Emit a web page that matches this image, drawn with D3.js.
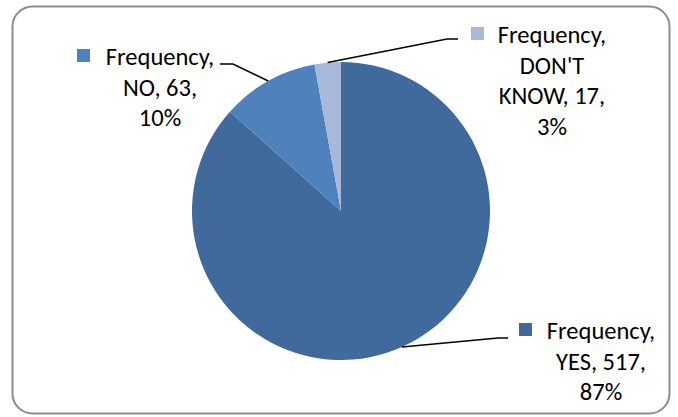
<!DOCTYPE html>
<html>
<head>
<meta charset="utf-8">
<script src="https://cdn.jsdelivr.net/npm/d3@7"></script>
<style>
  html, body { margin: 0; padding: 0; background: #ffffff; }
  svg { display: block; }
</style>
</head>
<body>
<svg id="chart" width="678" height="417"></svg>
<script>
// Survey answers and their counts
const categories = ["YES", "NO", "DON'T KNOW"];
const seriesName = "Frequency";
const counts = [517, 63, 17];
const percents = ["87%", "10%", "3%"];
const sliceColors = ["#416A9C", "#4F81BD", "#A7B8D9"];

// Label text blocks, one array of lines per slice
const labelLines = [
  [seriesName + ",", "YES, 517,", "87%"],
  [seriesName + ",", "NO, 63,", "10%"],
  [seriesName + ",", "DON'T", "KNOW, 17,", "3%"]
];

const svg = d3.select("#chart");

// Rounded chart-area frame
svg.append("rect")
  .attr("x", 12.5).attr("y", 6.5)
  .attr("width", 657).attr("height", 407)
  .attr("rx", 20).attr("ry", 20)
  .attr("fill", "#ffffff")
  .attr("stroke", "#8c8c8c")
  .attr("stroke-width", 2);

const cx = 341, cy = 211, r = 149;

const pie = d3.pie().sort(null).value(d => d.count);
const data = categories.map((c, i) => ({ cat: c, count: counts[i], pct: percents[i], color: sliceColors[i], lines: labelLines[i] }));
const arcs = pie(data);
const arc = d3.arc().innerRadius(0).outerRadius(r);

const g = svg.append("g").attr("transform", `translate(${cx},${cy})`);
g.selectAll("path.slice")
  .data(arcs)
  .join("path")
  .attr("class", "slice")
  .attr("d", arc)
  .attr("fill", d => d.data.color)
  .attr("stroke", "none");

// Label placement: text column centre, first baseline, leader elbow and end
const labelLayout = [
  { tx: 601, y0: 339, kx: 519, elbow: [498, 338], end: 508 },
  { tx: 160, y0: 65,  kx: 77,  elbow: [233, 64],  end: 220 },
  { tx: 552, y0: 43,  kx: 471, elbow: [447, 39],  end: 458 }
];

const fontFamily = "Carlito, Calibri, Lato, 'Open Sans', sans-serif";
const fontSize = 24.5;
const lineGap = 30.5;

arcs.forEach((a, i) => {
  const L = labelLayout[i];
  // leader touches the rim at the slice's middle angle
  const ang = (a.startAngle + a.endAngle) / 2;
  const px = cx + r * Math.sin(ang);
  const py = cy - r * Math.cos(ang);

  svg.append("polyline")
    .attr("points", `${px},${py} ${L.elbow[0]},${L.elbow[1]} ${L.end},${L.elbow[1]}`)
    .attr("fill", "none")
    .attr("stroke", "#000000")
    .attr("stroke-width", 1.5);

  const t = svg.append("text")
    .attr("font-family", fontFamily)
    .attr("font-size", fontSize)
    .attr("fill", "#000000")
    .attr("text-anchor", "middle");
  a.data.lines.forEach((ln, k) => {
    t.append("tspan")
      .attr("x", L.tx)
      .attr("y", L.y0 + k * lineGap)
      .text(ln);
  });

  // legend key square in front of the first line
  svg.append("rect")
    .attr("x", L.kx).attr("y", L.y0 - 16)
    .attr("width", 13).attr("height", 13)
    .attr("fill", a.data.color);
});
</script>
</body>
</html>
